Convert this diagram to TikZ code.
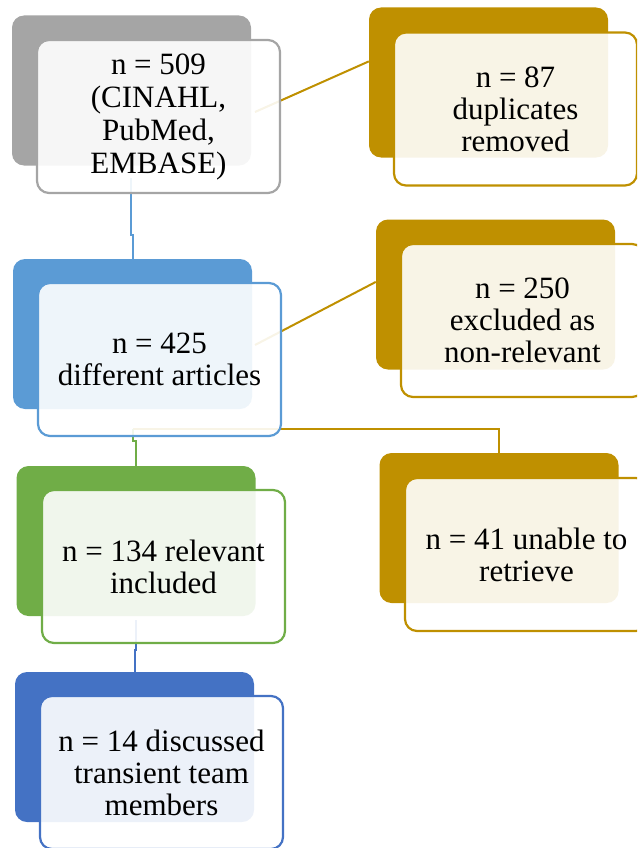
\documentclass[tikz,border=0pt]{standalone}
\usepackage{fontspec}
\setmainfont{Liberation Serif}
\usepackage{tikz}
\definecolor{srcgray}{HTML}{A5A5A5}
\definecolor{exclgold}{HTML}{BF9000}
\definecolor{artblue}{HTML}{5B9BD5}
\definecolor{relgreen}{HTML}{70AD47}
\definecolor{teamblue}{HTML}{4472C4}

\begin{document}
\begin{tikzpicture}[x=1pt,y=1pt,
	backbox/.style={rectangle, rounded corners=12pt, fill=#1, minimum width=239pt, minimum height=150pt},
	frontbox/.style={rectangle, rounded corners=12pt, draw=#1, line width=2.2pt, fill=white, fill opacity=0.9, text opacity=1,
		minimum width=243pt, minimum height=153pt, align=center, font=\fontsize{31}{32}\selectfont},
	link/.style={draw=#1, line width=2pt}]
	\clip (0,0) rectangle (637,-848);

	% coloured back panels
	\node[backbox=srcgray] (searchback) at (131.5,-90.5) {};
	\node[backbox=exclgold] (dupback) at (488.5,-82.5) {};
	\node[backbox=artblue] (articleback) at (132.5,-334) {};
	\node[backbox=exclgold] (nonrelback) at (495.5,-294.5) {};
	\node[backbox=relgreen] (relback) at (136,-541) {};
	\node[backbox=exclgold] (retrback) at (499,-528) {};
	\node[backbox=teamblue] (teamback) at (134.5,-747) {};

	% connectors, behind the front boxes
	\coordinate (searchout) at (131,-178);
	\coordinate (searchside) at (255,-112);
	\coordinate (articleside) at (255,-345);
	\coordinate (articleout) at (133,-429);
	\coordinate (relout) at (136,-620);

	\draw[link=artblue] (searchout) -- ++(0,-57) -| (articleback.north);
	\draw[link=exclgold] (searchside) -- (dupback.170);
	\draw[link=exclgold] (articleside) -- (nonrelback.174);
	\draw[link=exclgold] (articleout) -| (retrback.north);
	\draw[link=relgreen] (articleout) -- ++(0,-12) -| (relback.north);
	\draw[link=teamblue] (relout) -- ++(0,-30) -| (teamback.north);

	% front boxes with the texts
	\node[frontbox=srcgray, font=\fontsize{31}{33}\selectfont] (search) at (158.5,-116.5) {n = 509\\(CINAHL,\\PubMed,\\EMBASE)};
	\node[frontbox=exclgold] (dup) at (515.5,-109) {n = 87\\duplicates\\removed};
	\node[frontbox=artblue] (article) at (159.5,-359.5) {n = 425\\different articles};
	\node[frontbox=exclgold] (nonrel) at (522.5,-320.5) {n = 250\\excluded as\\non-relevant};
	\node[frontbox=relgreen] (rel) at (163.5,-566.5) {n = 134 relevant\\included};
	\node[frontbox=exclgold] (retr) at (526.5,-554.5) {n = 41 unable to\\retrieve};
	\node[frontbox=teamblue] (team) at (161.5,-772.5) {n = 14 discussed\\transient team\\members};
\end{tikzpicture}
\end{document}
